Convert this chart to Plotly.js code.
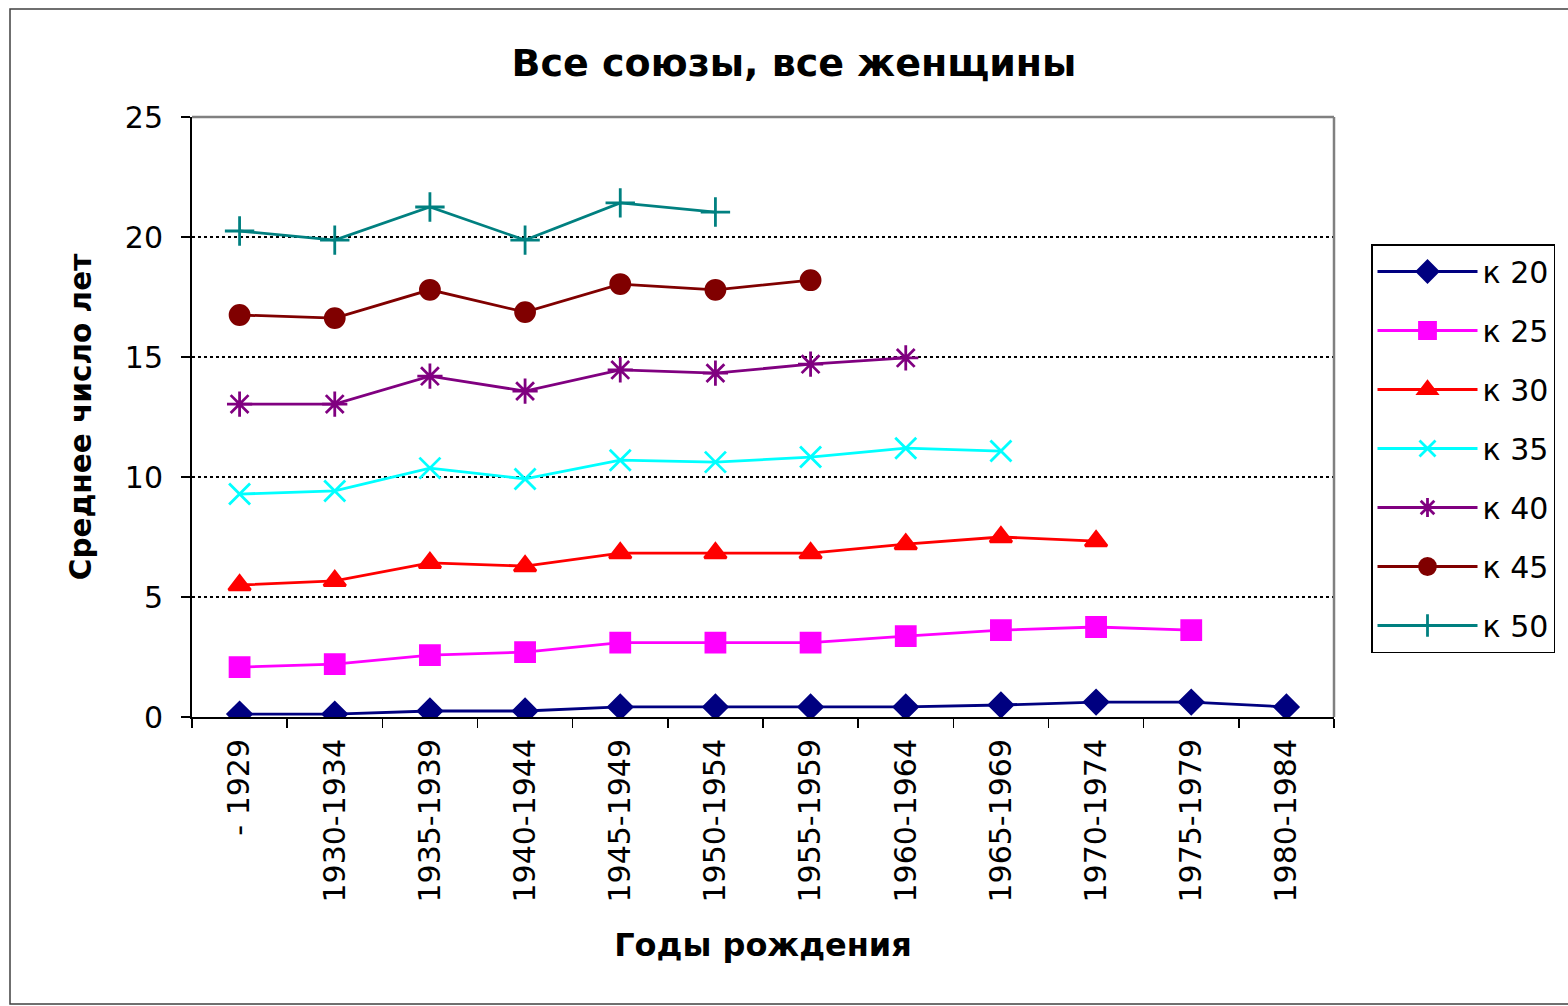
<!DOCTYPE html>
<html>
<head>
<meta charset="utf-8">
<script src="https://cdn.plot.ly/plotly-3.0.1.min.js"></script>
<style>html,body{margin:0;padding:0;background:#fff;}#chart{width:1568px;height:1006px;}</style>
</head>
<body>
<div id="chart"></div>
<script>
const categories = ["- 1929","1930-1934","1935-1939","1940-1944","1945-1949","1950-1954","1955-1959","1960-1964","1965-1969","1970-1974","1975-1979","1980-1984"];
const seriesNames = ["к 20","к 25","к 30","к 35","к 40","к 45","к 50"];
const k20 = [0.12,0.12,0.25,0.25,0.42,0.42,0.42,0.42,0.5,0.62,0.62,0.42];
const k25 = [2.08,2.2,2.58,2.7,3.1,3.1,3.1,3.37,3.62,3.75,3.62,null];
const k30 = [5.5,5.67,6.42,6.29,6.83,6.83,6.83,7.2,7.5,7.33,null,null];
const k35 = [9.29,9.42,10.37,9.92,10.7,10.62,10.83,11.2,11.08,null,null,null];
const k40 = [13.04,13.04,14.2,13.58,14.46,14.33,14.7,14.96,null,null,null,null];
const k45 = [16.75,16.62,17.8,16.87,18.04,17.8,18.2,null,null,null,null,null];
const k50 = [20.25,19.87,21.25,19.87,21.42,21.04,null,null,null,null,null,null];

const values = [k20,k25,k30,k35,k40,k45,k50];
const colors = ["#000080","#FF00FF","#FF0000","#00FFFF","#800080","#800000","#008080"];
const symbols = ["diamond","square","triangle-up","x-thin","asterisk","circle","cross-thin"];
const sizes = [18,19,19,21,21,19,21];

const traces = values.map((v,i)=>({
  type:"scatter", mode:"lines+markers", name:seriesNames[i], x:categories, y:v,
  legendgroup:"g"+i,
  line:{color:colors[i], width:2.8},
  marker:{symbol:symbols[i], size:sizes[i], color:colors[i], line:{color:colors[i], width:2.8}},
  connectgaps:false, hoverinfo:"x+y"
}));

const L=192,R=1334,T=117,B=717;
const px = x => (x-L)/(R-L);
const py = y => (B-y)/(B-T);
const font = "DejaVu Sans, Verdana, sans-serif";

const layout = {
  width:1568, height:1006,
  margin:{l:L, r:1568-R, t:T, b:1006-B},
  paper_bgcolor:"#fff", plot_bgcolor:"#fff",
  font:{family:font, color:"#000", size:29},
  title:{text:"<b>Все союзы, все женщины</b>", font:{family:font, size:38, color:"#000"}, x:px(794), xref:"paper", xanchor:"center", y:1-63/1006, yanchor:"middle"},
  showlegend:true,
  legend:{x:px(1371), y:py(244), xanchor:"left", yanchor:"top", bordercolor:"#000", borderwidth:1.5, bgcolor:"#fff", font:{family:font, size:30, color:"#000"}, tracegroupgap:17, itemwidth:100},
  xaxis:{type:"category", range:[-0.5,11.5], tickangle:-90, showline:true, linecolor:"#000", linewidth:2,
    ticks:"outside", tickson:"boundaries", ticklen:9, tickcolor:"#000", tickwidth:1.5, showgrid:false, zeroline:false,
    tickfont:{family:font, size:30, color:"#000"}, ticklabelstandoff:8,
    title:{text:"<b>Годы рождения</b>", font:{family:font, size:32, color:"#000"}, standoff:32}, automargin:false},
  yaxis:{range:[0,25], dtick:5, showline:true, linecolor:"#000", linewidth:2, ticks:"outside", ticklen:9, tickcolor:"#000", tickwidth:1.5,
    showgrid:true, gridcolor:"#000", gridwidth:1.5, griddash:"dot", zeroline:false,
    tickfont:{family:font, size:30, color:"#000"}, ticklabelstandoff:12,
    title:{text:"<b>Среднее число лет</b>", font:{family:font, size:29.5, color:"#000"}, standoff:24}, automargin:false},
  shapes:[
    {type:"line", xref:"paper", yref:"paper", x0:0, x1:1, y0:1, y1:1, line:{color:"#808080", width:2.5}},
    {type:"line", xref:"paper", yref:"paper", x0:1, x1:1, y0:0, y1:1, line:{color:"#808080", width:2.5}},
    {type:"rect", xref:"paper", yref:"paper", x0:px(10), x1:px(1600), y0:py(1004), y1:py(9), line:{color:"#404040", width:1.5}, fillcolor:"rgba(0,0,0,0)", layer:"below"}
  ]
};

Plotly.newPlot("chart", traces, layout, {displayModeBar:false, staticPlot:true});
</script>
</body>
</html>
